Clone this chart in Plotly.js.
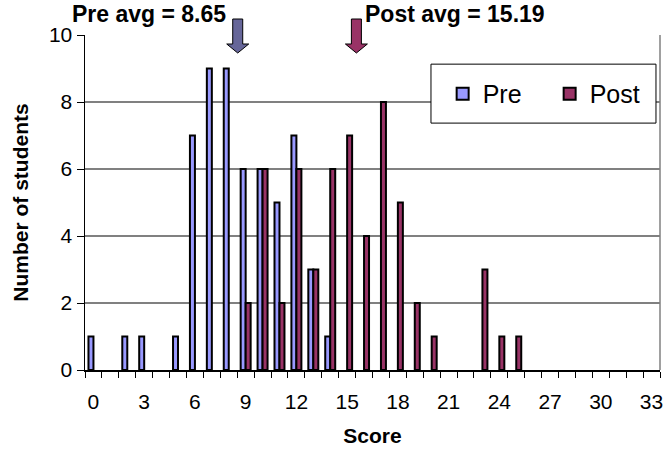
<!DOCTYPE html>
<html>
<head>
<meta charset="utf-8">
<script src="https://cdn.plot.ly/plotly-3.0.1.min.js"></script>
<style>html,body{margin:0;padding:0;background:#fff;}#chart{width:669px;height:456px;}</style>
</head>
<body>
<div id="chart"></div>
<script>
// ---- data ----
const preScores  = [0, 2, 3, 5, 6, 7, 8, 9, 10, 11, 12, 13, 14];
const preCounts  = [1, 1, 1, 1, 7, 9, 9, 6, 6, 5, 7, 3, 1];
const postScores = [9, 10, 11, 12, 13, 14, 15, 16, 17, 18, 19, 20, 23, 24, 25];
const postCounts = [2, 6, 2, 6, 3, 6, 7, 4, 8, 5, 2, 1, 3, 1, 1];
const xTickVals  = [0, 3, 6, 9, 12, 15, 18, 21, 24, 27, 30, 33];
const xTickText  = ['0','3','6','9','12','15','18','21','24','27','30','33'];
const yTickVals  = [0, 2, 4, 6, 8, 10];
const seriesNames = ['Pre', 'Post'];

function avg(s, c) {
  let n = 0, t = 0;
  for (let i = 0; i < s.length; i++) { n += c[i]; t += s[i] * c[i]; }
  return t / n;
}
const preAvg = avg(preScores, preCounts);
const postAvg = avg(postScores, postCounts);

const FONT = 'Liberation Sans, Arial, sans-serif';
const PRE_FILL = '#9999FF', POST_FILL = '#993366';
const PRE_ARROW = '#666699', POST_ARROW = '#993366';

const traces = [
  { type: 'bar', name: seriesNames[0], x: preScores, y: preCounts,
    marker: { color: PRE_FILL, line: { color: '#000', width: 2 } } },
  { type: 'bar', name: seriesNames[1], x: postScores, y: postCounts,
    marker: { color: POST_FILL, line: { color: '#000', width: 2 } } }
];

function arrowPath(dx) {
  const p = [[-5,16],[5,16],[5,-9],[11,-9],[0,-18],[-11,-9],[-5,-9]];
  return 'M' + p.map(q => (q[0] + dx) + ',' + q[1]).join(' L') + ' Z';
}

const layout = {
  width: 669, height: 456,
  margin: { l: 85, r: 9, t: 35, b: 86 },
  paper_bgcolor: '#fff', plot_bgcolor: '#fff',
  font: { family: FONT, color: '#000', size: 21 },
  barmode: 'group', bargap: 0.41, bargroupgap: 0,
  showlegend: true,
  legend: { orientation: 'h', x: 0.622, xanchor: 'left', y: 0.824, yanchor: 'middle',
            bgcolor: 'rgba(0,0,0,0)', borderwidth: 0, font: { size: 25, family: FONT },
            entrywidth: 62, traceorder: 'normal' },
  xaxis: {
    range: [-0.5, 33.5], tickmode: 'array', tickvals: xTickVals, ticktext: xTickText,
    ticks: '', showgrid: false, zeroline: false,
    showline: true, linecolor: '#000', linewidth: 1.5,
    ticklabelstandoff: 12,
    tickfont: { size: 21, family: FONT },
    minor: { tickmode: 'linear', tick0: -0.5, dtick: 1, ticks: 'outside', ticklen: 6,
             tickwidth: 1, tickcolor: '#000', showgrid: false },
    title: { text: 'Score', font: { size: 21, family: FONT, weight: 'bold' }, standoff: 16 }
  },
  yaxis: {
    range: [0, 10], tickmode: 'array', tickvals: yTickVals,
    ticks: 'outside', ticklen: 7, tickwidth: 1, tickcolor: '#000',
    showgrid: true, gridcolor: '#808080', gridwidth: 1.5, zeroline: false,
    showline: true, linecolor: '#000', linewidth: 1.5,
    tickfont: { size: 21, family: FONT },
    title: { text: 'Number of students', font: { size: 21, family: FONT, weight: 'bold' }, standoff: 14 }
  },
  shapes: [
    { type: 'line', xref: 'paper', yref: 'paper', x0: 1, x1: 1, y0: 0, y1: 1,
      line: { color: '#808080', width: 1.5 } },
    { type: 'rect', xref: 'paper', yref: 'paper', x0: 0.6017, x1: 0.993, y0: 0.737, y1: 0.913,
      fillcolor: '#fff', line: { color: '#000', width: 1 }, layer: 'above' },
    { type: 'path', xref: 'x', yref: 'paper', xsizemode: 'pixel', ysizemode: 'pixel',
      xanchor: preAvg, yanchor: 1, path: arrowPath(-2),
      fillcolor: PRE_ARROW, line: { color: '#000', width: 1 }, layer: 'above' },
    { type: 'path', xref: 'x', yref: 'paper', xsizemode: 'pixel', ysizemode: 'pixel',
      xanchor: postAvg, yanchor: 1, path: arrowPath(6),
      fillcolor: POST_ARROW, line: { color: '#000', width: 1 }, layer: 'above' }
  ],
  annotations: [
    { xref: 'x', yref: 'paper', x: preAvg, y: 1, xanchor: 'right', yanchor: 'middle',
      xshift: -12, yshift: 21, showarrow: false,
      text: 'Pre avg = ' + preAvg.toFixed(2),
      font: { size: 23, family: FONT, weight: 'bold' } },
    { xref: 'x', yref: 'paper', x: postAvg, y: 1, xanchor: 'left', yanchor: 'middle',
      xshift: 13, yshift: 21, showarrow: false,
      text: 'Post avg = ' + postAvg.toFixed(2),
      font: { size: 23, family: FONT, weight: 'bold' } }
  ]
};

Plotly.newPlot('chart', traces, layout, { displayModeBar: false, staticPlot: true });
</script>
</body>
</html>
